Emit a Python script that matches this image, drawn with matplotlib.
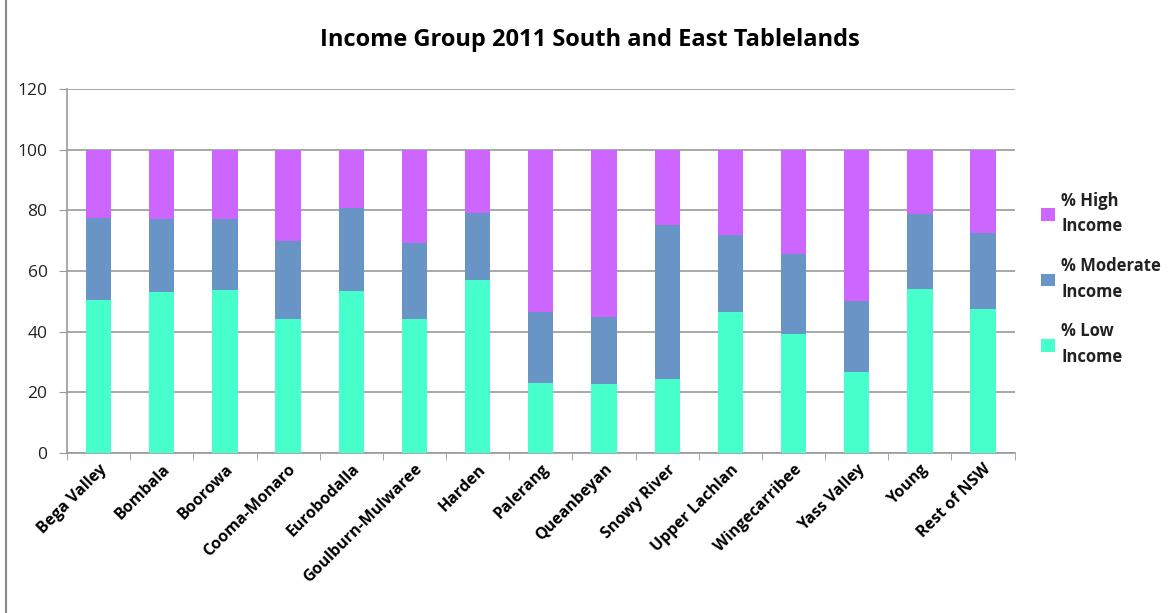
import numpy as np
import matplotlib
matplotlib.use("Agg")
import matplotlib.pyplot as plt
from matplotlib.patches import Rectangle

# values (percent of households)
regions = ["Bega Valley", "Bombala", "Boorowa", "Cooma-Monaro", "Eurobodalla",
           "Goulburn-Mulwaree", "Harden", "Palerang", "Queanbeyan", "Snowy River",
           "Upper Lachlan", "Wingecarribee", "Yass Valley", "Young", "Rest of NSW"]
low_income = [50.5, 52.9, 53.8, 44.2, 53.5, 44.2, 57.0, 23.1, 22.9, 24.4,
              46.6, 39.2, 26.7, 54.1, 47.4]
moderate_income = [27.1, 24.1, 23.4, 25.7, 27.3, 25.1, 22.1, 23.5, 22.0, 50.7,
                   25.1, 26.5, 23.3, 24.8, 25.1]
high_income = [22.4, 23.0, 22.8, 30.1, 19.2, 30.7, 20.9, 53.4, 55.1, 24.9,
               28.3, 34.3, 50.0, 21.1, 27.5]

plt.rcParams['font.family'] = ['Open Sans', 'DejaVu Sans']

fig = plt.figure(figsize=(11.73, 6.13), dpi=100)
ax = fig.add_axes([0.0571, 0.261, 0.8079, 0.594])

x = np.arange(len(regions))
w = 0.40
low = np.array(low_income)
mod = np.array(moderate_income)
high = np.array(high_income)
b1 = ax.bar(x, low, w, color="#46FFCB", zorder=3, label="% Low\nIncome")
b2 = ax.bar(x, mod, w, bottom=low, color="#6894C6", zorder=3, label="% Moderate\nIncome")
b3 = ax.bar(x, high, w, bottom=low + mod, color="#CC66FF", zorder=3, label="% High\nIncome")

ax.set_xlim(-0.5, len(regions) - 0.5)
ax.set_ylim(0, 120)
ax.set_yticks(range(0, 121, 20))
ax.yaxis.grid(True, color="#999999", linewidth=1.2, zorder=0)
ax.tick_params(axis="y", labelsize=12.5, length=6, pad=8, color="#999999",
               labelcolor="#222222")

ax.set_xticks(x)
ax.set_xticklabels(regions, rotation=45, ha="right", rotation_mode="anchor",
                   fontsize=11.5, fontweight="bold")
ax.set_xticks(np.arange(-0.5, len(regions)), minor=True)
ax.tick_params(axis="x", which="major", length=0, pad=6)
ax.tick_params(axis="x", which="minor", length=5, color="#999999")

for s in ["top", "right"]:
    ax.spines[s].set_visible(False)
for s in ["left", "bottom"]:
    ax.spines[s].set_color("#999999")
    ax.spines[s].set_linewidth(1.2)

fig.text(0.503, 0.935, "Income Group 2011 South and East Tablelands",
         ha="center", va="center", fontsize=17, fontweight="bold")

leg = fig.legend(handles=[b3, b2, b1], loc="center left", bbox_to_anchor=(0.875, 0.545),
                 frameon=False, prop={"size": 12, "weight": "bold"},
                 handlelength=0.8, handleheight=0.8, handletextpad=0.4, labelspacing=1.3)
for t in leg.get_texts():
    t.set_linespacing(1.55)
    t.set_color("#222222")

fig.patches.append(Rectangle((0.005, -0.01), 1.2, 1.2, transform=fig.transFigure,
                             fill=False, edgecolor="#888888", linewidth=1.5))

fig.savefig("out.png", dpi=100)
